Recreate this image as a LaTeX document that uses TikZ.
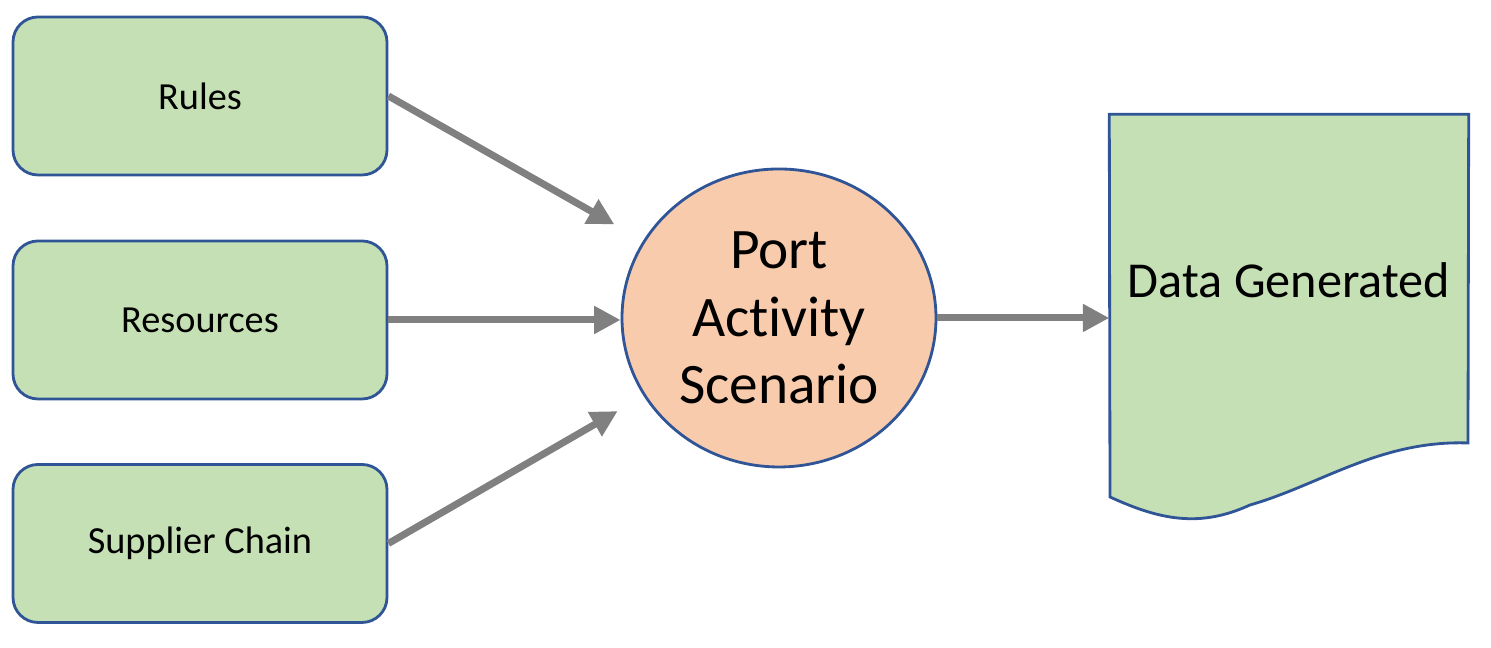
\documentclass[tikz,border=0pt]{standalone}
\usepackage{fontspec}
\setmainfont{Carlito}[Ligatures=NoCommon]
\usetikzlibrary{arrows.meta,shapes.geometric}
\definecolor{boxgreen}{HTML}{C5E0B4}
\definecolor{edgeblue}{HTML}{2F5597}
\definecolor{scenorange}{HTML}{F8CBAD}
\definecolor{arrowgray}{HTML}{808080}
\tikzset{
  inbox/.style={draw=edgeblue, line width=0.8pt, fill=boxgreen, rounded corners=0.25cm,
    minimum width=3.74cm, minimum height=1.58cm, font=\fontsize{10.9}{13}\selectfont},
  arr/.style={draw=arrowgray, line width=2pt, -{Triangle[length=7.5pt,width=7.5pt]}}
}
\begin{document}
\begin{tikzpicture}
\useasboundingbox (0,0) rectangle (14.91,6.48);
\node[inbox] (rules) at (2.0,5.52) {Rules};
\node[inbox] (res) at (2.0,3.28) {Resources};
\node[inbox] (supp) at (2.0,1.045) {Supplier Chain};
\node[draw=edgeblue, line width=0.8pt, fill=scenorange, ellipse, inner sep=0pt,
  minimum width=3.14cm, minimum height=2.98cm, align=center,
  font=\fontsize{16.3}{19.3}\selectfont] (scen) at (7.79,3.30) {Port\\Activity\\Scenario};
% document shape
\node[minimum width=3.58cm, minimum height=4.1cm, inner sep=0pt] (doc) at (12.89,3.28) {};
\path[draw=edgeblue, line width=0.8pt, fill=boxgreen]
  (doc.north west) -- (doc.north east) -- (14.68,2.05)
  .. controls (13.80,2.08) and (13.20,1.63) .. (12.50,1.43)
  .. controls (12.00,1.20) and (11.60,1.28) .. (11.10,1.51) -- cycle;
\node[font=\fontsize{14.3}{17}\selectfont] (doctext) at (12.89,3.68) {Data Generated};
\path[arr,shorten >=0.33cm] (rules.east) -- (scen);
\path[arr] (res.east) -- (res.east -| scen.west);
\path[arr,shorten >=0.3cm] (supp.east) -- (scen);
\path[arr] (scen.east) -- (scen.east -| doc.west);
\end{tikzpicture}
\end{document}
